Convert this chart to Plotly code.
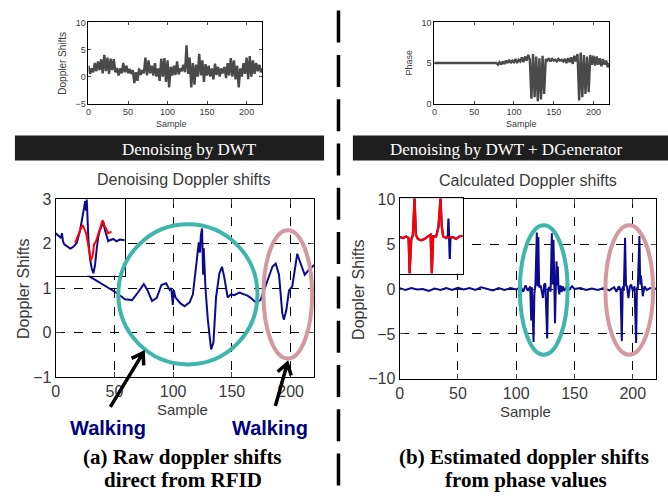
import math
import plotly.graph_objects as go

W, H = 668, 497

# ---------------- data ----------------
# (top-left) raw doppler shifts from RFID
raw_sample = list(range(0, 221, 2))
raw_doppler = [
    2.0, 0.5, 1.5, 0.8, 2.5, 1.0, 2.8, 1.2, 3.2, 0.6,
    4.0, 1.0, 3.5, 0.5, 3.3, 1.2, 3.2, 0.8, 1.6, 0.2,
    1.5, 0.6, 2.5, 0.8, 2.0, 0.6, 1.4, 0.5, 1.2, -1.2,
    0.8, -0.8, 1.5, 0.3, 1.2, 0.6, 3.5, 0.2, 3.0, 0.6,
    2.0, 0.2, 2.5, 0.0, 1.5, -0.8, 3.3, 0.0, 3.4, -1.0,
    3.0, -2.0, 1.8, 0.2, 2.0, 0.3, 2.8, 0.4, 1.5, 1.0,
    2.2, 0.8, 5.8, 0.5, 3.5, -2.0, 2.5, -1.5, 2.2, 0.0,
    4.2, 0.2, 3.0, -1.0, 2.3, 0.2, 2.0, 0.0, 1.5, -0.5,
    2.4, 0.3, 1.8, 0.0, 1.5, 0.6, 1.8, -0.3, 2.5, 0.2,
    3.4, 0.0, 3.0, -0.5, 2.0, -2.0, 1.5, 0.0, 2.5, 0.5,
    3.5, -0.5, 3.8, 0.0, 3.0, 0.5, 2.5, 1.0, 2.2, 0.8,
    1.5]

# (top-right) phase values
phase_sample = [0] + list(range(78, 221, 2))
phase_value = [5.0,
    5.0, 4.8, 5.1, 4.8, 5.2, 4.9, 5.3, 5.0, 5.4, 5.0,
    5.3, 5.1, 5.5, 5.0, 5.4, 5.2, 5.7, 5.1, 5.8, 5.3,
    6.0, 5.4, 0.6, 6.1, 0.8, 5.8, 0.3, 5.6, 0.5, 5.9,
    1.2, 5.5, 5.3, 5.6, 5.2, 5.5, 5.3, 5.4, 5.2, 5.5,
    5.3, 5.4, 5.2, 5.5, 5.0, 5.6, 5.1, 5.7, 4.9, 5.9,
    5.2, 6.1, 0.4, 6.3, 0.8, 6.0, 1.2, 5.8, 1.4, 6.0,
    4.8, 5.9, 4.7, 5.8, 4.8, 5.6, 4.6, 5.5, 4.8, 5.3,
    4.5, 4.8]

# (a) denoised doppler shifts
den_sample = [27, 52, 59, 65, 70, 75, 78, 82, 86, 90,
    94, 97, 98.4, 99.7, 100.5, 102, 106, 109.7, 114, 116.8,
    119.6, 121.8, 122.8, 123.6, 124.6, 125.5, 126, 127.5, 129.5, 132.3,
    134.3, 136.5, 139.3, 141.6, 143.6, 146.4, 149.2, 152, 156.3, 160,
    163.3, 166, 170.3, 174.4, 178.8, 184.5, 187.3, 190.1, 192.9, 194.3,
    196.3, 198.6, 201.4, 203.7, 205.6, 207.6, 209.8, 212, 215.5, 219.7,
    220]
den_shift = [1.29, 0.89, 0.75, 0.73, 0.90, 1.09, 0.96, 0.71, 0.78, 1.07,
    1.11, 0.96, 1.0, 0.62, 0.95, 0.79, 0.66, 0.59, 0.68, 0.86,
    1.51, 2.03, 1.8, 2.2, 2.34, 1.30, 1.9, 1.0, 0.29, -0.38,
    -0.22, 0.79, 1.33, 1.48, 1.23, 0.79, 0.86, 0.84, 0.90, 0.86,
    0.83, 0.78, 0.68, 0.73, 1.04, 1.48, 1.55, 1.30, 0.43, 0.29,
    0.50, 0.94, 1.04, 1.51, 1.77, 1.62, 1.44, 1.30, 1.41, 1.51,
    1.52]

# (b) calculated doppler shifts
calc_sample = [0, 5, 10, 15, 20, 25, 30, 35, 40, 45,
    50, 55, 60, 65, 70, 75, 80, 85, 90, 95,
    100, 104, 106, 108, 110, 112, 112.9, 113.5, 114.9, 115.6,
    116.5, 117.7, 118.3, 119, 119.7, 121, 122, 123, 124, 125,
    126.6, 127.3, 128.6, 129.5, 130.6, 131.3, 132, 132.6, 133.3, 134,
    134.6, 135.2, 135.7, 136.3, 137, 138, 139, 140, 141, 143,
    145, 148, 150, 155, 160, 165, 170, 175, 180, 184,
    186, 188, 189.5, 190.6, 191.4, 192.3, 193.4, 194.2, 195, 196.3,
    197.5, 198.6, 200, 201.5, 202.9, 203.6, 204.3, 205.7, 206.4, 207,
    208, 208.6, 210, 212, 215, 218, 220]
calc_shift = [0.1, -0.1, 0.1, -0.05, 0.0, -0.2, 0.05, -0.1, 0.1, -0.1,
    0.15, -0.05, 0.1, -0.1, 0.2, 0.0, -0.15, 0.1, -0.1, 0.1,
    -0.05, 0.2, -0.3, 0.4, -0.2, 0.3, -3.5, 0.2, -5.9, -0.5,
    0.5, 6.3, 0.3, 5.8, 0.2, 0.4, -0.6, -1.0, 0.5, 0.6,
    -5.5, 0.0, 0.2, -0.3, 6.2, 0.5, 5.5, 0.0, -3.8, 0.2,
    3.1, 0.4, 2.5, 0.0, -0.6, 0.4, -0.3, 0.3, -0.2, 0.2,
    -0.1, 0.3, 0.0, 0.1, -0.1, 0.05, -0.1, 0.1, -0.15, 0.2,
    -0.3, 0.3, 0.0, -5.8, 0.3, -0.2, 5.7, 0.4, 0.3, -1.0,
    0.3, 0.5, -0.2, 0.3, -6.0, 0.2, 0.0, 5.9, 0.5, 1.5,
    -0.3, -0.8, 0.3, -0.1, 0.1, 0.0, 0.05]

# inset (a): zoomed comparison, arbitrary units
inset_a_blue_x = [0, 1.8, 3.2, 3.8, 4.4, 5.2, 6.8, 8.8, 10.8, 12.8,
    14.8, 16.4, 17.2, 17.8, 18.4, 18.8, 19.2, 19.8, 20.8, 21.8,
    22.8, 23.8, 24.8, 25.8, 26.8, 27.8, 28.8, 29.8, 30.8, 31.8,
    32.8, 34.8, 36.8, 38.8, 41.8]
inset_a_blue_y = [26.4, 24.4, 23.4, 26.4, 21.4, 19.4, 18.0, 16.8, 18.0, 20.4,
    28.4, 36.4, 42.4, 46.4, 40.4, 47.6, 38.4, 22.4, 10.4, 4.4,
    1.4, 6.4, 16.4, 24.4, 28.4, 30.4, 33.4, 28.4, 24.4, 21.4,
    22.0, 22.8, 21.4, 22.4, 22.0]
inset_a_red_x = [11.8, 13.8, 15.2, 16.4, 17.2, 18.4, 19.8, 21.2, 22.4, 23.2,
    24.4, 25.8, 27.2, 28.4, 29.4, 30.4, 31.8, 33.8]
inset_a_red_y = [20.4, 26.4, 29.4, 31.4, 29.4, 26.4, 18.4, 9.4, 12.4, 19.4,
    21.4, 26.4, 30.4, 34.4, 31.4, 28.8, 26.4, 27.4]

# inset (b)
inset_b_blue_x = [0, 2, 4, 5.4, 6, 7, 8, 9, 9.8, 11,
    13, 15, 17, 18.6, 19.4, 20.2, 22, 23.4, 24.6, 25.4,
    26.2, 28, 29, 29.4, 29.8, 30.2, 30.6, 32, 34, 36, 38]
inset_b_blue_y = [22.6, 22, 23, 22, 0, 21, 24, 46.6, 24, 21.4,
    20.6, 21.4, 23, 24, 0, 23, 23, 29, 46.6, 29,
    23, 22, 23, 34, 22, 9, 22, 22.6, 21.4, 23, 23.4]
inset_b_red_x = [0, 2, 4, 5.4, 6, 7, 8, 9, 9.8, 11,
    13, 15, 17, 18.6, 19.4, 20.2, 22, 23.4, 24.6, 25.4,
    26.2, 28, 30, 32, 34, 36, 38]
inset_b_red_y = [22.6, 22, 23, 22, 0, 21, 24, 46.6, 24, 21.4,
    20.6, 21.4, 23, 24, 0, 23, 23, 29, 46.6, 29,
    23, 22, 22.6, 22.6, 21.4, 23, 23.4]

sample_ticks = [0, 50, 100, 150, 200]
raw_ticks = [-5, 0, 5, 10]
phase_ticks = [0, 5, 10]
den_ticks = [-1, 0, 1, 2, 3]
calc_ticks = [-10, -5, 0, 5, 10]

# ---------------- helpers (layout geometry in pixels) ----------------
def px(x):
    return x / W

def py(y):
    return 1 - y / H

FONT = "Liberation Sans, Arial, sans-serif"
SERIF = "Liberation Serif, Times New Roman, serif"
TXT = "#3a3a3a"
NAVY = "#0b0b8f"
GRAY = "#4a4a4a"

fig = go.Figure()
fig.add_trace(go.Scatter(x=raw_sample, y=raw_doppler, mode="lines", line=dict(color=GRAY, width=2.4),
                         xaxis="x", yaxis="y", showlegend=False))
fig.add_trace(go.Scatter(x=phase_sample, y=phase_value, mode="lines", line=dict(color=GRAY, width=2.4),
                         xaxis="x2", yaxis="y2", showlegend=False))
fig.add_trace(go.Scatter(x=den_sample, y=den_shift, mode="lines", line=dict(color=NAVY, width=2),
                         xaxis="x3", yaxis="y3", showlegend=False))
fig.add_trace(go.Scatter(x=calc_sample, y=calc_shift, mode="lines", line=dict(color=NAVY, width=2),
                         xaxis="x4", yaxis="y4", showlegend=False))
fig.add_trace(go.Scatter(x=inset_a_blue_x, y=inset_a_blue_y, mode="lines", line=dict(color=NAVY, width=2),
                         xaxis="x5", yaxis="y5", showlegend=False))
fig.add_trace(go.Scatter(x=inset_a_red_x, y=inset_a_red_y, mode="lines", line=dict(color="#ff0000", width=2),
                         xaxis="x5", yaxis="y5", showlegend=False))
fig.add_trace(go.Scatter(x=inset_b_blue_x, y=inset_b_blue_y, mode="lines", line=dict(color=NAVY, width=2.2),
                         xaxis="x6", yaxis="y6", showlegend=False))
fig.add_trace(go.Scatter(x=inset_b_red_x, y=inset_b_red_y, mode="lines", line=dict(color="#ff0000", width=2.2),
                         xaxis="x6", yaxis="y6", showlegend=False))


def small_axis(domain, rng, ticks, anchor):
    return dict(domain=domain, range=rng, tickvals=ticks, ticks="inside", ticklen=3, mirror="ticks",
                showline=True, linecolor="black", linewidth=1, showgrid=False, zeroline=False,
                tickfont=dict(family=FONT, size=9, color=TXT), anchor=anchor, fixedrange=True)


def main_axis(domain, rng, ticks, anchor):
    return dict(domain=domain, range=rng, tickvals=ticks, ticks="inside", ticklen=5, mirror="ticks",
                showline=True, linecolor="black", linewidth=1, showgrid=True, gridcolor="black",
                gridwidth=1, griddash="dash", zeroline=False,
                tickfont=dict(family=FONT, size=16, color=TXT), anchor=anchor, fixedrange=True)


def inset_axis(domain, rng, anchor):
    return dict(domain=domain, range=rng, showline=True, mirror=True, linecolor="black", linewidth=1,
                ticks="", showticklabels=False, showgrid=False, zeroline=False, anchor=anchor, fixedrange=True)


top_y = [py(99), py(15)]
layout = dict(
    width=W, height=H, margin=dict(l=0, r=0, t=0, b=0),
    paper_bgcolor="white", plot_bgcolor="white", showlegend=False,
    xaxis=small_axis([px(85), px(260)], [0, 220], sample_ticks, "y"),
    yaxis=small_axis(top_y, [-5, 10], raw_ticks, "x"),
    xaxis2=small_axis([px(433), px(609)], [0, 220], sample_ticks, "y2"),
    yaxis2=small_axis(top_y, [0, 10], phase_ticks, "x2"),
    xaxis3=main_axis([px(52), px(312)], [0, 220], sample_ticks, "y3"),
    yaxis3=main_axis([py(382), py(198)], [-1, 3], den_ticks, "x3"),
    xaxis4=main_axis([px(398), px(656)], [0, 220], sample_ticks, "y4"),
    yaxis4=main_axis([py(384), py(198)], [-10, 10], calc_ticks, "x4"),
    xaxis5=inset_axis([px(52), px(121.5)], [0, 41.8], "y5"),
    yaxis5=inset_axis([py(277), py(198)], [0, 47.6], "x5"),
    xaxis6=inset_axis([px(398), px(461.5)], [0, 38], "y6"),
    yaxis6=inset_axis([py(275), py(197)], [0, 46.6], "x6"),
)
fig.update_layout(**layout)

shapes = []
# white backgrounds for the insets (cover the main grids)
shapes.append(dict(type="rect", xref="x5", yref="y5", x0=0, x1=41.8, y0=0, y1=47.6,
                   fillcolor="white", line=dict(width=0), layer="below"))
shapes.append(dict(type="rect", xref="x6", yref="y6", x0=0, x1=38, y0=0, y1=46.6,
                   fillcolor="white", line=dict(width=0), layer="below"))
# black banner bars
shapes.append(dict(type="rect", xref="paper", yref="paper", x0=px(11), x1=px(322), y0=py(158), y1=py(132),
                   fillcolor="#1e1e1e", line=dict(width=0)))
shapes.append(dict(type="rect", xref="paper", yref="paper", x0=px(351), x1=px(668), y0=py(158), y1=py(132),
                   fillcolor="#1e1e1e", line=dict(width=0)))
# dashed divider
shapes.append(dict(type="line", xref="paper", yref="paper", x0=px(336.5), x1=px(336.5), y0=py(2.7), y1=py(497),
                   line=dict(color="black", width=3.5, dash="32px,12.3px")))
# ellipses
TEAL = "rgb(62,182,170)"
PINK = "rgb(212,152,160)"
for (x0, x1, y0, y1, c) in [(115, 255, 224, 369, TEAL), (261, 310, 230, 363, PINK),
                            (519, 567, 225, 359, TEAL), (605, 653, 225, 359, PINK)]:
    shapes.append(dict(type="circle", xref="paper", yref="paper", x0=px(x0), x1=px(x1), y0=py(y1), y1=py(y0),
                       line=dict(color=c, width=4)))


def arrow_path(tail, head, wing=13, ang=33):
    tx, ty = tail
    hx, hy = head
    dx, dy = tx - hx, ty - hy
    L = math.hypot(dx, dy)
    ux, uy = dx / L, dy / L
    pts = []
    for s in (1, -1):
        a = math.radians(ang * s)
        wx = ux * math.cos(a) - uy * math.sin(a)
        wy = ux * math.sin(a) + uy * math.cos(a)
        pts.append((hx + wing * wx, hy + wing * wy))
    p = "M {} {} L {} {} M {} {} L {} {} L {} {}".format(
        px(tx), py(ty), px(hx), py(hy),
        px(pts[0][0]), py(pts[0][1]), px(hx), py(hy), px(pts[1][0]), py(pts[1][1]))
    return p


for tail, head in [((107, 413), (140, 357)), ((273, 412), (285, 368))]:
    shapes.append(dict(type="path", xref="paper", yref="paper", path=arrow_path(tail, head),
                       line=dict(color="black", width=3.5)))

fig.update_layout(shapes=shapes)

ann = []


def text(x, y, s, size, color=TXT, family=FONT, angle=0, bold=False):
    t = "<b>{}</b>".format(s) if bold else s
    ann.append(dict(x=px(x), y=py(y), xref="paper", yref="paper", text=t, showarrow=False,
                    xanchor="center", yanchor="middle", textangle=angle,
                    font=dict(family=family, size=size, color=color)))


# top small plots
text(58, 57, "Doppler Shifts", 10, angle=-90)
text(169, 120, "Sample", 9)
text(407, 57, "Phase", 9, angle=-90)
text(521, 120, "Sample", 9)
# banners
text(187, 146, "Denoising by DWT", 17, color="white", family=SERIF)
text(505, 146, "Denoising by DWT + DGenerator", 17, color="white", family=SERIF)
# main titles
text(181, 178, "Denoising Doppler shifts", 16)
text(527, 179, "Calculated Doppler shifts", 16)
text(19, 290, "Doppler Shifts", 16, angle=-90)
text(356, 291, "Doppler Shifts", 16, angle=-90)
text(180, 416, "Sample", 15)
text(525, 418, "Sample", 15)
# walking labels
text(105, 435, "Walking", 20, color="#000080", bold=True)
text(268, 435, "Walking", 20, color="#000080", bold=True)
# captions
text(180, 465, "(a) Raw doppler shifts", 21, color="black", family=SERIF, bold=True)
text(180, 489, "direct from RFID", 21, color="black", family=SERIF, bold=True)
text(523, 465, "(b) Estimated doppler shifts", 21, color="black", family=SERIF, bold=True)
text(525, 489, "from phase values", 21, color="black", family=SERIF, bold=True)

fig.update_layout(annotations=ann)
fig.write_html("out.html")
